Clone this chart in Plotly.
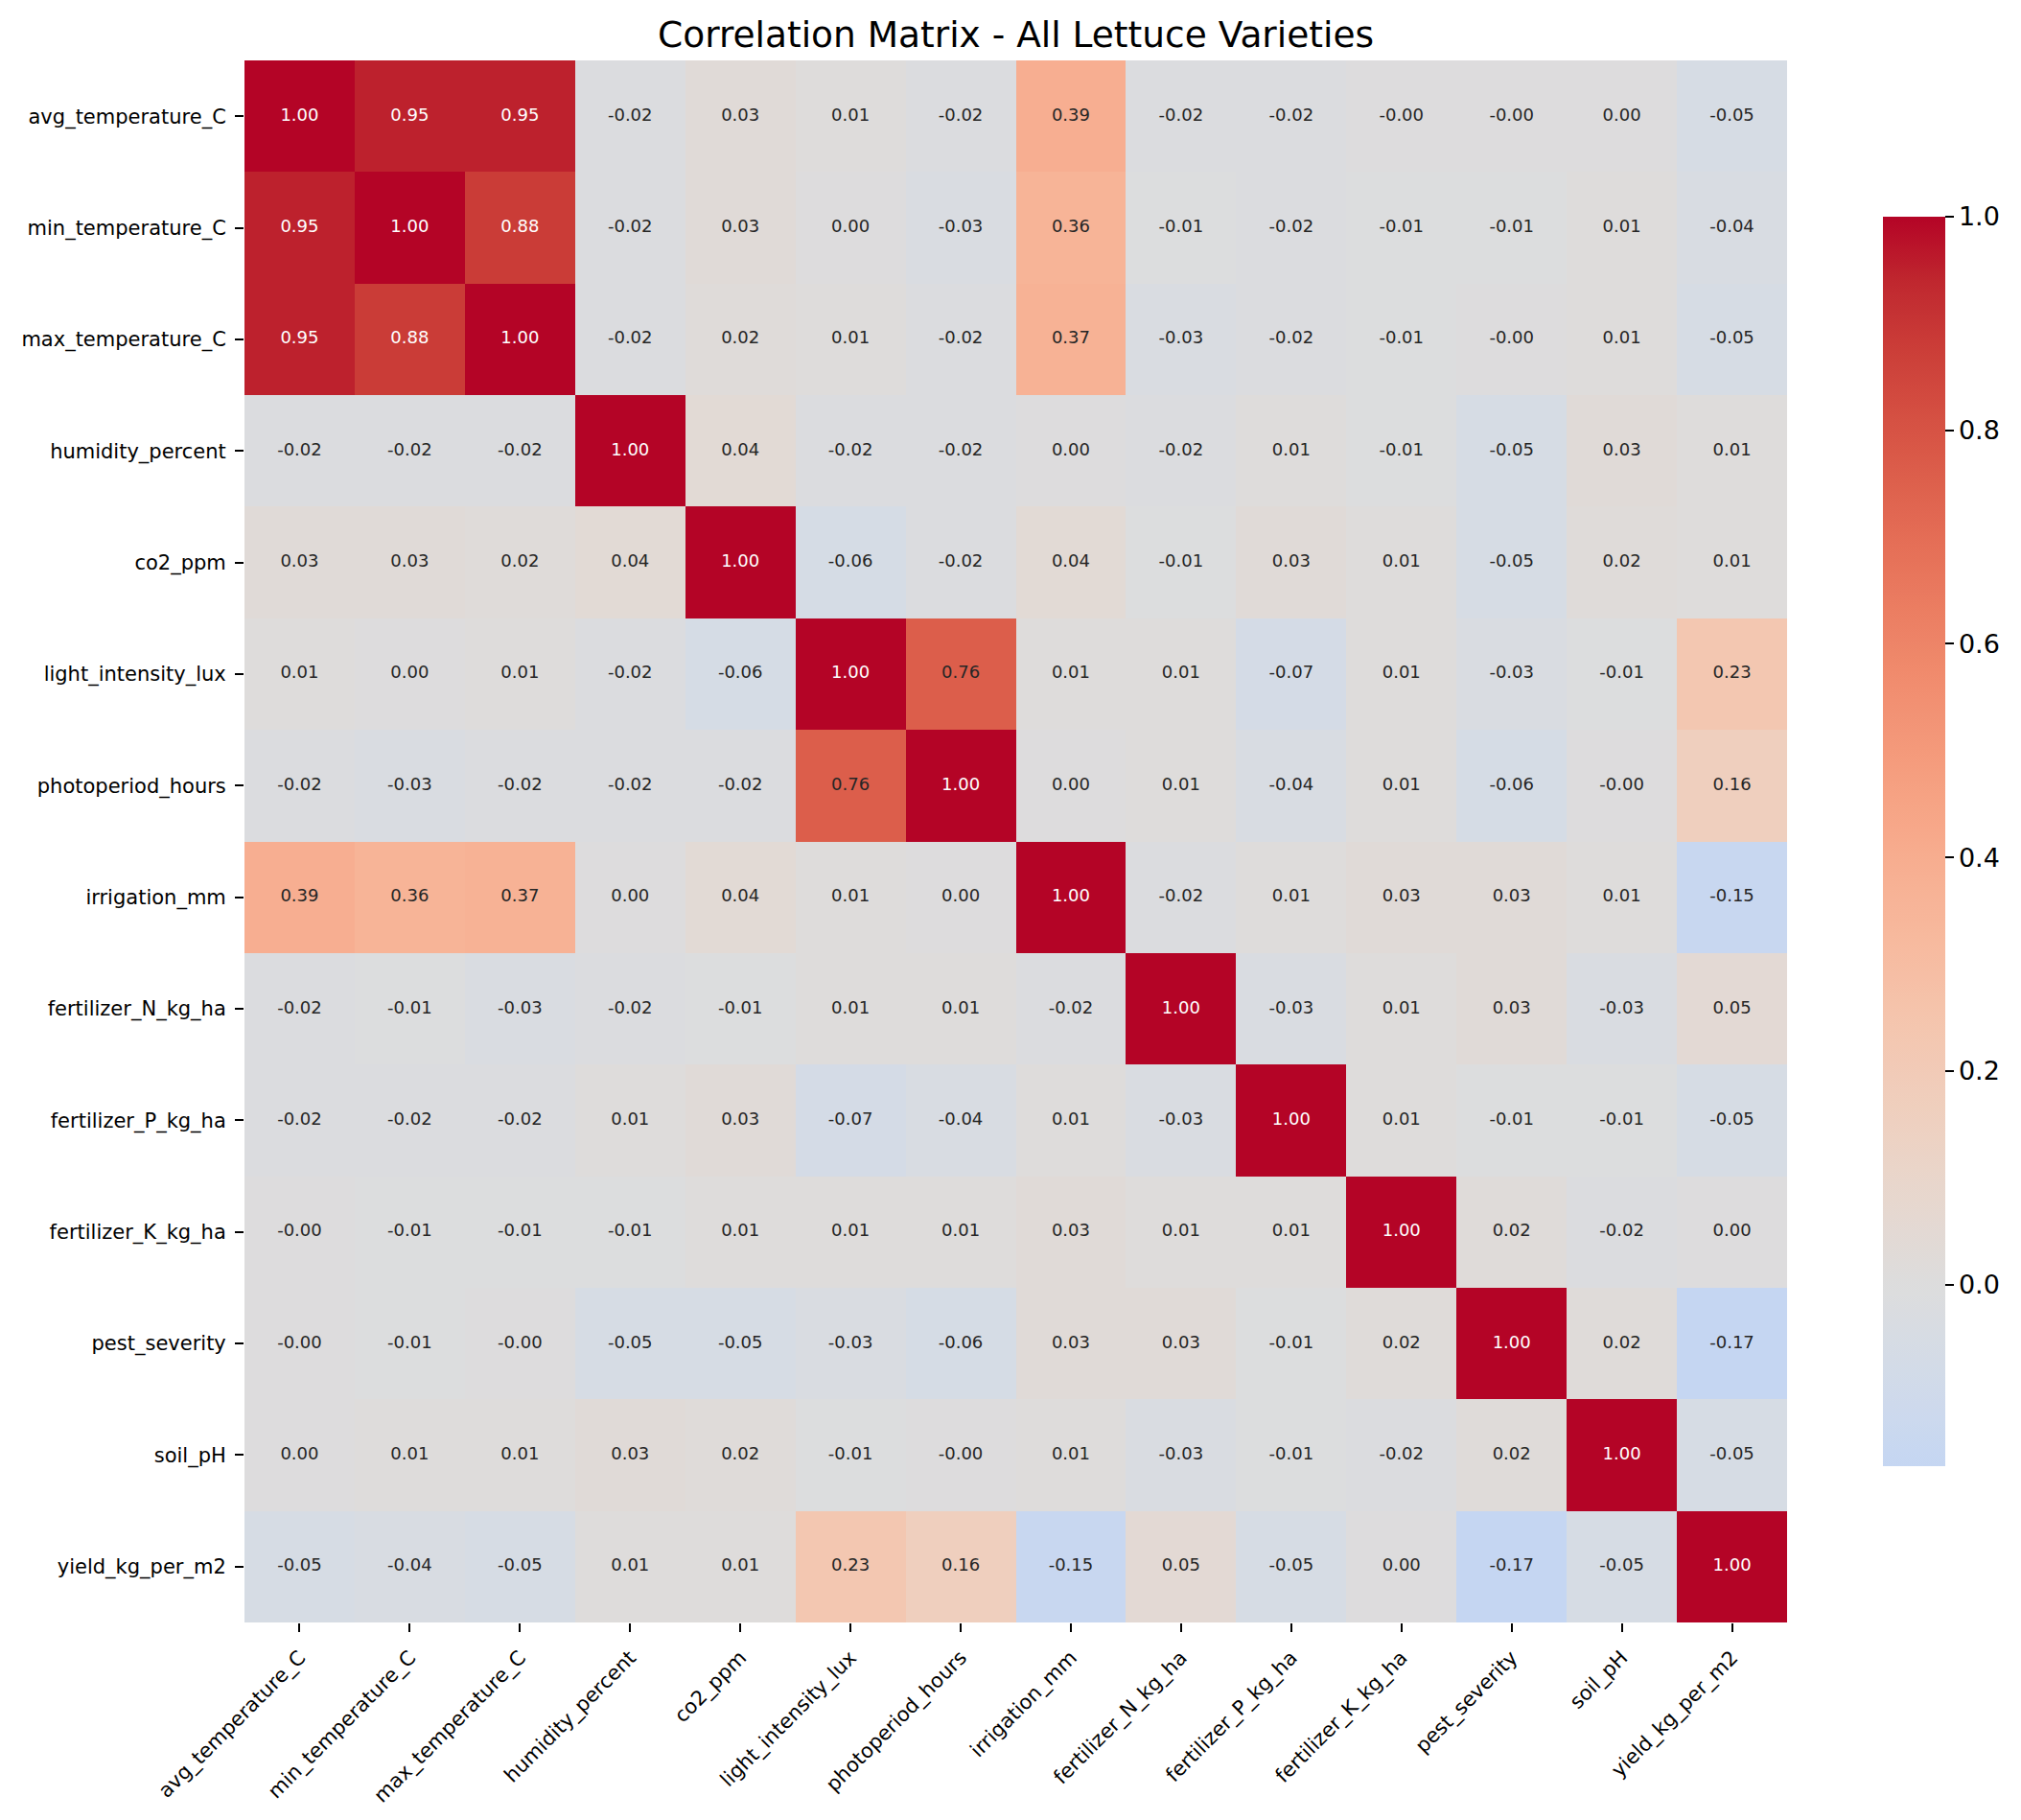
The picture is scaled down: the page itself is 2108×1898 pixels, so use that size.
import numpy as np
import plotly.graph_objects as go

labels = ["avg_temperature_C", "min_temperature_C", "max_temperature_C", "humidity_percent",
          "co2_ppm", "light_intensity_lux", "photoperiod_hours", "irrigation_mm",
          "fertilizer_N_kg_ha", "fertilizer_P_kg_ha", "fertilizer_K_kg_ha", "pest_severity",
          "soil_pH", "yield_kg_per_m2"]

row_avg_temp = [1.00, 0.95, 0.95, -0.02, 0.03, 0.01, -0.02, 0.39, -0.02, -0.02, -0.00, -0.00, 0.00, -0.05]
row_min_temp = [0.95, 1.00, 0.88, -0.02, 0.03, 0.00, -0.03, 0.36, -0.01, -0.02, -0.01, -0.01, 0.01, -0.04]
row_max_temp = [0.95, 0.88, 1.00, -0.02, 0.02, 0.01, -0.02, 0.37, -0.03, -0.02, -0.01, -0.00, 0.01, -0.05]
row_humidity = [-0.02, -0.02, -0.02, 1.00, 0.04, -0.02, -0.02, 0.00, -0.02, 0.01, -0.01, -0.05, 0.03, 0.01]
row_co2 = [0.03, 0.03, 0.02, 0.04, 1.00, -0.06, -0.02, 0.04, -0.01, 0.03, 0.01, -0.05, 0.02, 0.01]
row_light = [0.01, 0.00, 0.01, -0.02, -0.06, 1.00, 0.76, 0.01, 0.01, -0.07, 0.01, -0.03, -0.01, 0.23]
row_photo = [-0.02, -0.03, -0.02, -0.02, -0.02, 0.76, 1.00, 0.00, 0.01, -0.04, 0.01, -0.06, -0.00, 0.16]
row_irrig = [0.39, 0.36, 0.37, 0.00, 0.04, 0.01, 0.00, 1.00, -0.02, 0.01, 0.03, 0.03, 0.01, -0.15]
row_fert_n = [-0.02, -0.01, -0.03, -0.02, -0.01, 0.01, 0.01, -0.02, 1.00, -0.03, 0.01, 0.03, -0.03, 0.05]
row_fert_p = [-0.02, -0.02, -0.02, 0.01, 0.03, -0.07, -0.04, 0.01, -0.03, 1.00, 0.01, -0.01, -0.01, -0.05]
row_fert_k = [-0.00, -0.01, -0.01, -0.01, 0.01, 0.01, 0.01, 0.03, 0.01, 0.01, 1.00, 0.02, -0.02, 0.00]
row_pest = [-0.00, -0.01, -0.00, -0.05, -0.05, -0.03, -0.06, 0.03, 0.03, -0.01, 0.02, 1.00, 0.02, -0.17]
row_soil = [0.00, 0.01, 0.01, 0.03, 0.02, -0.01, -0.00, 0.01, -0.03, -0.01, -0.02, 0.02, 1.00, -0.05]
row_yield = [-0.05, -0.04, -0.05, 0.01, 0.01, 0.23, 0.16, -0.15, 0.05, -0.05, 0.00, -0.17, -0.05, 1.00]

corr = [row_avg_temp, row_min_temp, row_max_temp, row_humidity, row_co2, row_light, row_photo,
        row_irrig, row_fert_n, row_fert_p, row_fert_k, row_pest, row_soil, row_yield]

colorbar_ticks = [0.0, 0.2, 0.4, 0.6, 0.8, 1.0]

# matplotlib "coolwarm" knots
cw_r = [0.2298057, 0.26623388, 0.30386891, 0.342804478, 0.38301334, 0.424369608, 0.46666708,
        0.509635204, 0.552953156, 0.596262162, 0.639176211, 0.681291281, 0.722193294, 0.761464949,
        0.798691636, 0.833466556, 0.865395197, 0.897787179, 0.924127593, 0.944468518, 0.958852946,
        0.96732803, 0.969954137, 0.966811177, 0.958003065, 0.943660866, 0.923944917, 0.89904617,
        0.869186849, 0.834620542, 0.795631745, 0.752534934, 0.705673158]
cw_g = [0.298717966, 0.353094838, 0.406535296, 0.458757618, 0.50941904, 0.558148092, 0.604562568,
        0.648280772, 0.688929332, 0.726149107, 0.759599947, 0.788964712, 0.813952739, 0.834302879,
        0.849786142, 0.860207984, 0.86541021, 0.848937047, 0.827384882, 0.800927443, 0.769767752,
        0.734132809, 0.694266682, 0.650421156, 0.602842431, 0.551750968, 0.49730856, 0.439559467,
        0.378313092, 0.312874446, 0.24128379, 0.157246067, 0.01555616]
cw_b = [0.753683153, 0.801466763, 0.84495867, 0.883725899, 0.917387822, 0.945619588, 0.968154911,
        0.98478814, 0.995375608, 0.999836203, 0.998151185, 0.990363227, 0.976574709, 0.956945269,
        0.931688648, 0.901068838, 0.865395561, 0.820880546, 0.774508472, 0.726736146, 0.678007945,
        0.628751763, 0.579375448, 0.530263762, 0.481775914, 0.434243684, 0.387970225, 0.343229596,
        0.300267182, 0.259301199, 0.220525627, 0.184115123, 0.150232812]
cw_pos = np.linspace(0, 1, len(cw_r))


def coolwarm(c):
    return (np.interp(c, cw_pos, cw_r), np.interp(c, cw_pos, cw_g), np.interp(c, cw_pos, cw_b))


z = np.array(corr, dtype=float)
zmin = float(z.min())
zmax = float(z.max())
# seaborn center=0 : colormap spans [-1, 1], truncated to [zmin, zmax]
colorscale = []
for p in np.linspace(0, 1, 81):
    v = zmin + p * (zmax - zmin)
    r, g, b = coolwarm((v + 1) / 2)
    colorscale.append([float(p), f"rgb({r*255:.1f},{g*255:.1f},{b*255:.1f})"])

xs, ys, texts, colors = [], [], [], []
for i, rl in enumerate(labels):
    for j, cl in enumerate(labels):
        v = corr[i][j]
        r, g, b = coolwarm((v + 1) / 2)
        lum = 0.2126 * r + 0.7152 * g + 0.0722 * b
        xs.append(cl)
        ys.append(rl)
        texts.append(f"{v:.2f}")
        colors.append("#262626" if lum > 0.408 else "#ffffff")

font_family = "DejaVu Sans"

fig = go.Figure()
fig.add_trace(go.Heatmap(
    z=corr, x=labels, y=labels,
    colorscale=colorscale, zmin=zmin, zmax=zmax,
    xgap=0, ygap=0,
    colorbar=dict(
        x=1.0622, xanchor="left", xpad=0, ypad=0,
        y=0.5, yanchor="middle",
        thickness=65, lenmode="pixels", len=1303,
        outlinewidth=0,
        tickvals=colorbar_ticks,
        ticktext=[f"{t:.1f}" for t in colorbar_ticks],
        ticks="outside", ticklen=9, tickwidth=1.5, tickcolor="black",
        tickfont=dict(family=font_family, size=27, color="black"),
    ),
    hoverinfo="skip",
))
fig.add_trace(go.Scatter(
    x=xs, y=ys, mode="text", text=texts,
    textfont=dict(family=font_family, size=18, color=colors),
    textposition="middle center",
    hoverinfo="skip", showlegend=False,
))

fig.update_layout(
    width=2108, height=1898,
    margin=dict(l=247, r=252, t=55, b=214, autoexpand=False),
    paper_bgcolor="white", plot_bgcolor="white",
    title=dict(text="Correlation Matrix - All Lettuce Varieties",
               x=0.5, xref="paper", xanchor="center",
               y=1 - 28 / 1898, yref="container", yanchor="middle",
               font=dict(family=font_family, size=37.5, color="black")),
    font=dict(family=font_family, color="black"),
    showlegend=False,
)
fig.update_xaxes(type="category", range=[-0.5, len(labels) - 0.5], automargin=False,
                 showgrid=False, zeroline=False, showline=False,
                 ticks="outside", ticklen=9, tickwidth=1.5, tickcolor="black",
                 ticklabelstandoff=6,
                 tickangle=-45, tickfont=dict(family=font_family, size=21, color="black"))
fig.update_yaxes(type="category", range=[len(labels) - 0.5, -0.5], automargin=False,
                 showgrid=False, zeroline=False, showline=False,
                 ticks="outside", ticklen=9, tickwidth=1.5, tickcolor="black",
                 ticklabelstandoff=5,
                 tickfont=dict(family=font_family, size=21, color="black"))

fig.write_html("out.html")
